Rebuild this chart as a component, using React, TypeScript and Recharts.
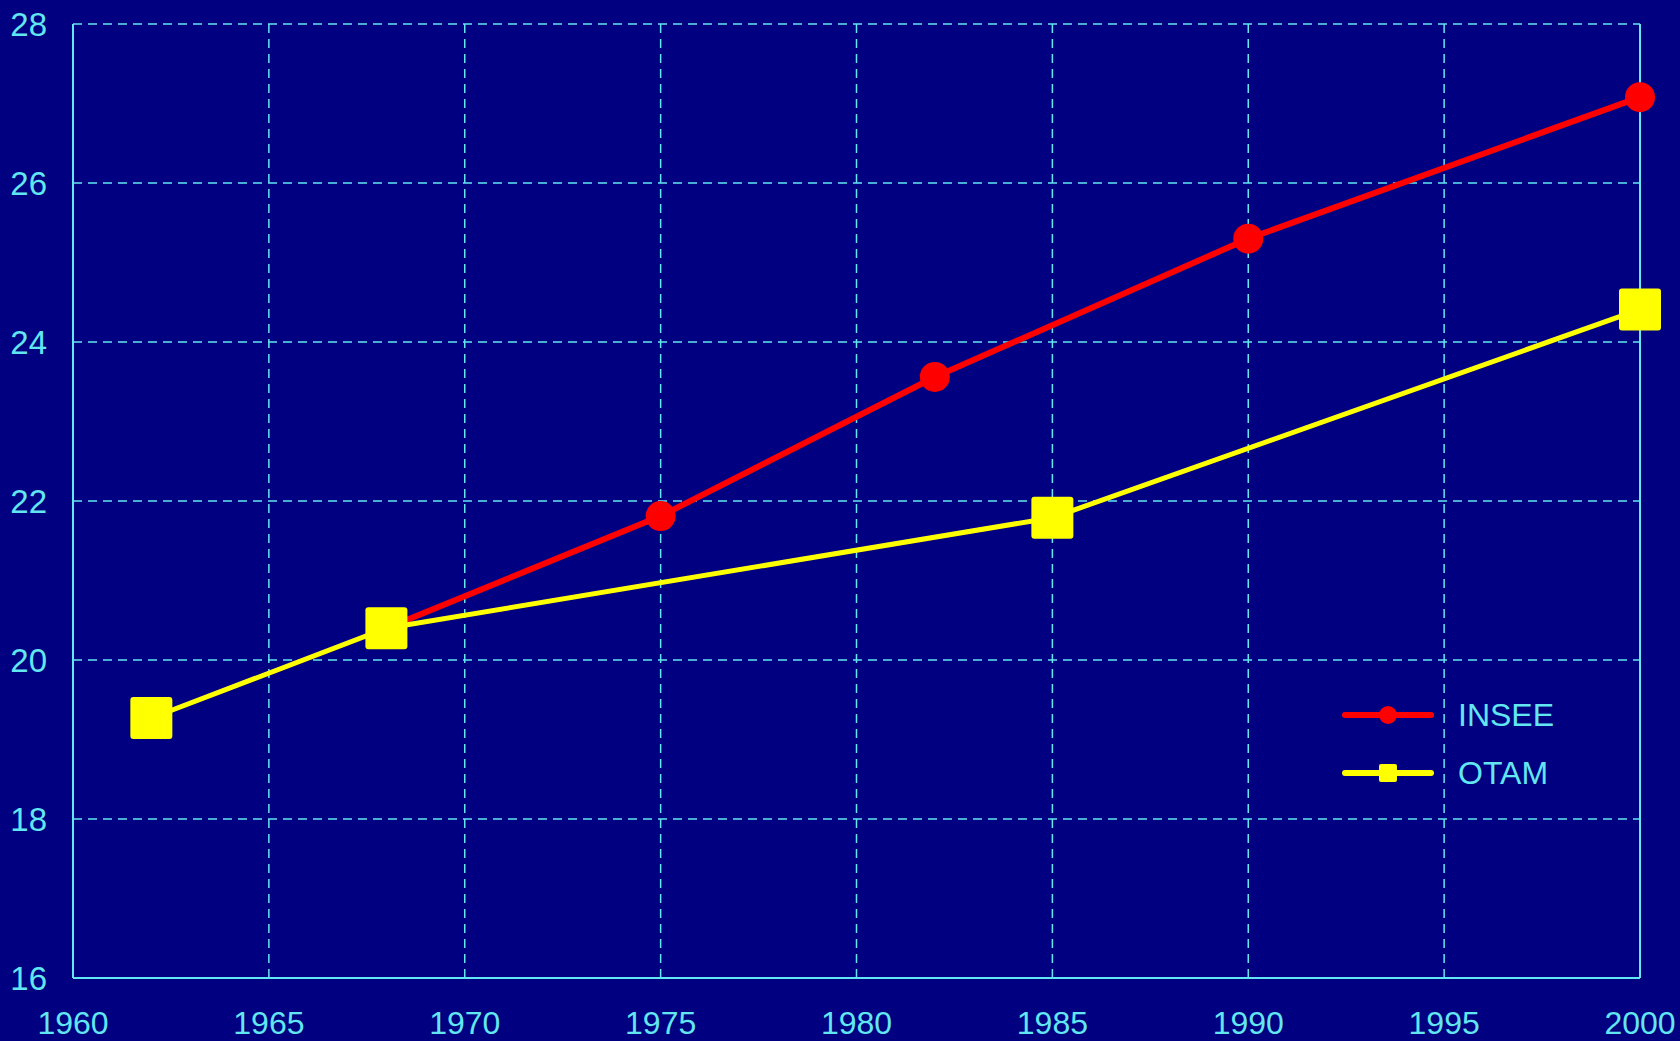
import React from 'react'
import { LineChart, Line, XAxis, YAxis, CartesianGrid, ReferenceLine } from 'recharts'

const years = [1962, 1968, 1975, 1982, 1985, 1990, 2000]
const insee = [null, 20.4, 21.81, 23.56, null, 25.3, 27.08]
const otam = [19.27, 20.4, null, null, 21.79, null, 24.41]
const xTicks = [1960, 1965, 1970, 1975, 1980, 1985, 1990, 1995, 2000]
const yTicks = [16, 18, 20, 22, 24, 26, 28]

const data = years.map((year, i) => ({ year, INSEE: insee[i], OTAM: otam[i] }))

const BG = '#000080'
const CYAN = '#62E6F2'
const FONT = '"Liberation Sans", Arial, sans-serif'

const Circle = (props: any) => {
  const { cx, cy, value } = props
  if (value == null || cx == null) return null
  return <circle key={`c${cx}`} cx={cx} cy={cy} r={15} fill="#FF0000" />
}

const Square = (props: any) => {
  const { cx, cy, value } = props
  if (value == null || cx == null) return null
  return <rect key={`s${cx}`} x={cx - 21} y={cy - 21} width={42} height={42} rx={3} fill="#FFFF00" />
}

// legend drawn by hand, on top of the chart
const LegendBox = () => (
  <div style={{ position: 'absolute', left: 1342, top: 686, fontFamily: FONT, fontSize: 32, color: CYAN }}>
    {[
      { name: 'INSEE', color: '#FF0000', square: false },
      { name: 'OTAM', color: '#FFFF00', square: true },
    ].map((it) => (
      <div key={it.name} style={{ display: 'flex', alignItems: 'center', height: 58 }}>
        <svg width={92} height={24} style={{ marginRight: 24 }}>
          <line x1={3} y1={12} x2={89} y2={12} stroke={it.color} strokeWidth={6} strokeLinecap="round" />
          {it.square ? (
            <rect x={37} y={3} width={18} height={18} rx={2} fill={it.color} />
          ) : (
            <circle cx={46} cy={12} r={9} fill={it.color} />
          )}
        </svg>
        <span>{it.name}</span>
      </div>
    ))}
  </div>
)

export default function App() {
  return (
    <div style={{ position: 'absolute', left: 0, top: 0, width: 1680, height: 1041, background: BG }}>
      <LineChart width={1680} height={1041} data={data} margin={{ top: 24, right: 40, left: 0, bottom: 0 }}>
        <CartesianGrid stroke={CYAN} strokeDasharray="9 6" strokeWidth={1.5} />
        <XAxis
          dataKey="year"
          type="number"
          domain={[1960, 2000]}
          ticks={xTicks}
          height={63}
          tickLine={false}
          tickSize={0}
          tickMargin={33}
          axisLine={{ stroke: CYAN, strokeWidth: 2 }}
          tick={{ fill: CYAN, fontSize: 32, fontFamily: FONT }}
        />
        <YAxis
          type="number"
          domain={[16, 28]}
          ticks={yTicks}
          width={73}
          tickLine={false}
          tickSize={0}
          tickMargin={26}
          axisLine={{ stroke: CYAN, strokeWidth: 2 }}
          tick={{ fill: CYAN, fontSize: 33, fontFamily: FONT }}
        />
        <ReferenceLine x={2000} stroke={CYAN} strokeWidth={2} />
        <Line
          type="linear"
          dataKey="INSEE"
          stroke="#FF0000"
          strokeWidth={6}
          dot={<Circle />}
          activeDot={false}
          connectNulls
          isAnimationActive={false}
        />
        <Line
          type="linear"
          dataKey="OTAM"
          stroke="#FFFF00"
          strokeWidth={5}
          dot={<Square />}
          activeDot={false}
          connectNulls
          isAnimationActive={false}
        />
      </LineChart>
      <LegendBox />
    </div>
  )
}
